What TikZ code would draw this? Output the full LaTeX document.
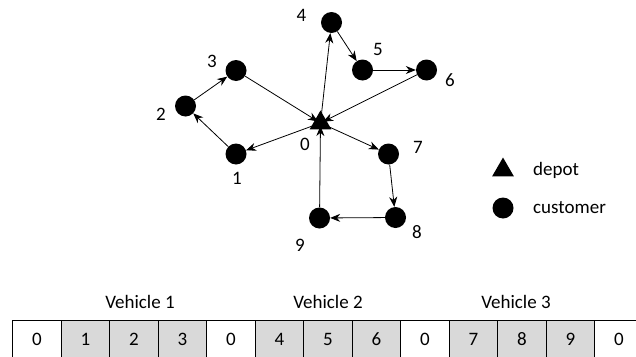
\documentclass[tikz,border=0pt]{standalone}
\usepackage{fontspec}
\setmainfont{Carlito}
\usetikzlibrary{arrows.meta,shapes.geometric,backgrounds}

\definecolor{cellgray}{HTML}{D9D9D9}

\tikzset{
  customer/.style={circle,fill=black,draw=none,minimum size=21pt,inner sep=0pt},
  depot/.style={regular polygon,regular polygon sides=3,fill=black,draw=none,
                minimum size=25pt,inner sep=0pt},
  lbl/.style={inner sep=0pt,font=\fontsize{19}{22}\selectfont},
  route/.style={-{Stealth[length=10pt,width=8pt]},line width=0.8pt},
  cell/.style={draw=black,line width=0.8pt},
}

\begin{document}
\begin{tikzpicture}[x=1pt,y=-1pt]
  \useasboundingbox (0,0) rectangle (636,356);
  \clip (0,0) rectangle (636,356);

  % --- network ---
  \node[depot]    (n0) at (320.5,123) {};
  \node[customer] (n1) at (236,154) {};
  \node[customer] (n2) at (185.5,106) {};
  \node[customer] (n3) at (236,70.5) {};
  \node[customer] (n4) at (331.5,22.5) {};
  \node[customer] (n5) at (362.5,70) {};
  \node[customer] (n6) at (426.5,70) {};
  \node[customer] (n7) at (388.5,154) {};
  \node[customer] (n8) at (395.5,217.5) {};
  \node[customer] (n9) at (319.5,218) {};

  \node[lbl] (t0) at (305,144) {0};
  \node[lbl] (t1) at (237,178) {1};
  \node[lbl] (t2) at (161,114) {2};
  \node[lbl] (t3) at (212,61) {3};
  \node[lbl] (t4) at (301.5,15) {4};
  \node[lbl] (t5) at (378,49) {5};
  \node[lbl] (t6) at (450,80) {6};
  \node[lbl] (t7) at (418,147) {7};
  \node[lbl] (t8) at (417,232) {8};
  \node[lbl] (t9) at (300,245) {9};

  \begin{scope}[on background layer]
    % route of vehicle 1
    \draw[route] (n0.center) -- (n1);
    \draw[route] (n1) -- (n2);
    \draw[route] (n2) -- (n3);
    \draw[route,shorten >=3pt] (n3) -- (n0.center);
    % route of vehicle 2
    \draw[route] (n0.center) -- (n4);
    \draw[route] (n4) -- (n5);
    \draw[route] (n5) -- (n6);
    \draw[route,shorten >=3pt] (n6) -- (n0.center);
    % route of vehicle 3
    \draw[route] (n0.center) -- (n7);
    \draw[route] (n7) -- (n8);
    \draw[route] (n8) -- (n9);
    \draw[route,shorten >=3pt] (n9) -- (n0.center);
  \end{scope}

  % --- legend ---
  \node[depot]    (ld) at (503,170) {};
  \node[customer] (lc) at (503,208) {};
  \node[lbl,anchor=base west] (ldt) at (533,175) {depot};
  \node[lbl,anchor=base west] (lct) at (533,213.5) {customer};

  % --- solution encoding ---
  \node[lbl,anchor=base] (v1) at (140,308.5) {Vehicle 1};
  \node[lbl,anchor=base] (v2) at (328,308.5) {Vehicle 2};
  \node[lbl,anchor=base] (v3) at (516,308.5) {Vehicle 3};

  \foreach \v [count=\i from 0] in {0,1,2,3,0,4,5,6,0,7,8,9,0} {
    \pgfmathsetmacro{\xl}{12.7+48.5*\i}
    \ifnum\v=0
      \def\fc{white}
    \else
      \def\fc{cellgray}
    \fi
    \draw[cell,fill=\fc] (\xl,320) rectangle ++(48.5,45);
    \node[lbl] (c\i) at (\xl+24.25,339.5) {\v};
  }
\end{tikzpicture}
\end{document}
